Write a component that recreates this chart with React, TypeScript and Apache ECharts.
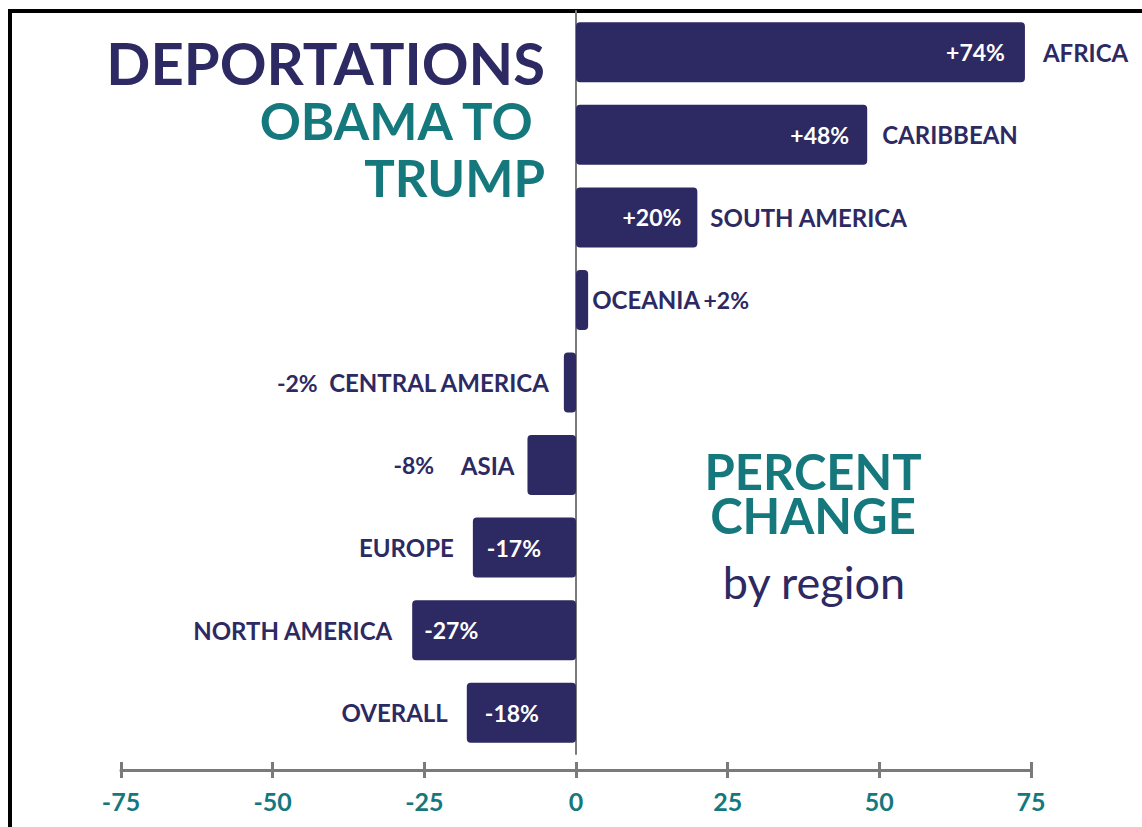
import React, { useEffect, useRef } from "react";
import * as echarts from "echarts";

const regions = [
  "AFRICA",
  "CARIBBEAN",
  "SOUTH AMERICA",
  "OCEANIA",
  "CENTRAL AMERICA",
  "ASIA",
  "EUROPE",
  "NORTH AMERICA",
  "OVERALL",
];
const changes = [74, 48, 20, 2, -2, -8, -17, -27, -18];
const changeLabels = ["+74%", "+48%", "+20%", "+2%", "-2%", "-8%", "-17%", "-27%", "-18%"];
const xTicks = [-75, -50, -25, 0, 25, 50, 75];

const NAVY = "#2d2962";
const TEAL = "#15787d";
const GRAY = "#7a7a7a";
const FONT = "Lato, 'Open Sans', sans-serif";

// "inR": value inside right + name outside right
// "outR": name + value outside right
// "outL": value + name outside left
// "inL": name outside left + value inside left
const layouts = ["inR", "inR", "inR", "outR", "outL", "outL", "inL", "inL", "inL"];
const outerDist = [18, 15, 13, 4, 15, 13, 19, 20, 19];
const innerDist = [20, 18, 16, 0, 0, 0, 14, 12, 18];

export default function App() {
  const ref = useRef<HTMLDivElement>(null);

  useEffect(() => {
    if (!ref.current) return;
    const chart = echarts.init(ref.current, null, { renderer: "svg" });

    const rich = {
      n: { fontFamily: FONT, fontWeight: "bold", fontSize: 24, color: NAVY },
      v: { fontFamily: FONT, fontWeight: "bold", fontSize: 23, color: NAVY },
    };

    const innerData = changes.map((v, i) => {
      const lay = layouts[i];
      const item: any = { value: v };
      if (lay === "inR" || lay === "inL") {
        item.label = {
          show: true,
          position: lay === "inR" ? "insideRight" : "insideLeft",
          distance: innerDist[i],
          formatter: changeLabels[i],
          color: "#ffffff",
          fontFamily: FONT,
          fontWeight: "bold",
          fontSize: 23,
        };
      } else {
        item.label = { show: false };
      }
      return item;
    });

    const outerData = changes.map((v, i) => {
      const lay = layouts[i];
      let text = "";
      let pos = "right";
      if (lay === "inR") {
        text = `{n|${regions[i]}}`;
      } else if (lay === "outR") {
        text = `{n|${regions[i]}} {v|${changeLabels[i]}}`;
      } else if (lay === "outL") {
        const gap = regions[i] === "ASIA" ? "        " : "   ";
        text = `{v|${changeLabels[i]}}${gap}{n|${regions[i]}}`;
        pos = "left";
      } else {
        text = `{n|${regions[i]}}`;
        pos = "left";
      }
      return {
        value: v,
        label: {
          show: true,
          position: pos,
          distance: outerDist[i],
          formatter: text,
          rich,
        },
      };
    });

    const baseX = {
      type: "value",
      min: -75,
      max: 75,
      interval: 25,
      position: "bottom",
      offset: 16,
      splitLine: { show: false },
    };

    chart.setOption({
      animation: false,
      backgroundColor: "#ffffff",
      grid: { left: 121, width: 910, top: 11, height: 743 },
      xAxis: [
        {
          ...baseX,
          axisLine: { show: true, onZero: false, lineStyle: { color: GRAY, width: 3 } },
          axisTick: { show: true, inside: false, length: 8, lineStyle: { color: GRAY, width: 3 } },
          axisLabel: {
            show: true,
            color: TEAL,
            fontFamily: FONT,
            fontWeight: "bold",
            fontSize: 25,
            margin: 18,
            formatter: (val: number) => String(val),
          },
        },
        {
          ...baseX,
          axisLine: { show: false, onZero: false },
          axisTick: { show: true, inside: true, length: 8, lineStyle: { color: GRAY, width: 3 } },
          axisLabel: { show: false },
        },
      ],
      yAxis: {
        type: "category",
        inverse: true,
        data: regions,
        axisLine: { show: true, onZero: true, onZeroAxisIndex: 0, lineStyle: { color: GRAY, width: 2 } },
        axisTick: { show: false },
        axisLabel: { show: false },
        splitLine: { show: false },
      },
      series: [
        {
          type: "bar",
          name: "change",
          xAxisIndex: 0,
          barWidth: 60,
          z: 3,
          itemStyle: { color: NAVY, borderRadius: 4 },
          data: innerData,
        },
        {
          type: "bar",
          name: "labels",
          xAxisIndex: 0,
          barWidth: 60,
          barGap: "-100%",
          z: 4,
          silent: true,
          itemStyle: { color: "rgba(0,0,0,0)" },
          data: outerData,
        },
      ],
      graphic: [
        {
          type: "line",
          shape: { x1: 8, y1: 11, x2: 1142, y2: 11 },
          style: { stroke: "#000000", lineWidth: 4 },
        },
        {
          type: "line",
          shape: { x1: 10, y1: 9, x2: 10, y2: 827 },
          style: { stroke: "#000000", lineWidth: 4 },
        },
        {
          type: "text",
          x: 545,
          y: 32,
          style: {
            text: "{a|DEPORTATIONS}\n{b|OBAMA TO }\n{b|TRUMP}",
            align: "right",
            verticalAlign: "top",
            rich: {
              a: { fill: NAVY, fontFamily: FONT, fontWeight: "bold", fontSize: 58, lineHeight: 60, align: "right" },
              b: { fill: TEAL, fontFamily: FONT, fontWeight: "bold", fontSize: 51, lineHeight: 57, align: "right" },
            },
          },
        },
        {
          type: "text",
          x: 813,
          y: 449,
          style: {
            text: "PERCENT\nCHANGE",
            fill: TEAL,
            fontFamily: FONT,
            fontWeight: "bold",
            fontSize: 49,
            lineHeight: 44,
            align: "center",
            verticalAlign: "top",
          },
        },
        {
          type: "text",
          x: 814,
          y: 582,
          style: {
            text: "by region",
            fill: NAVY,
            fontFamily: FONT,
            fontWeight: "normal",
            fontSize: 45,
            align: "center",
            verticalAlign: "middle",
          },
        },
      ],
    });

    return () => chart.dispose();
  }, []);

  return (
    <div
      ref={ref}
      style={{ position: "fixed", left: 0, top: 0, width: 1142, height: 827, background: "#fff" }}
    />
  );
}
